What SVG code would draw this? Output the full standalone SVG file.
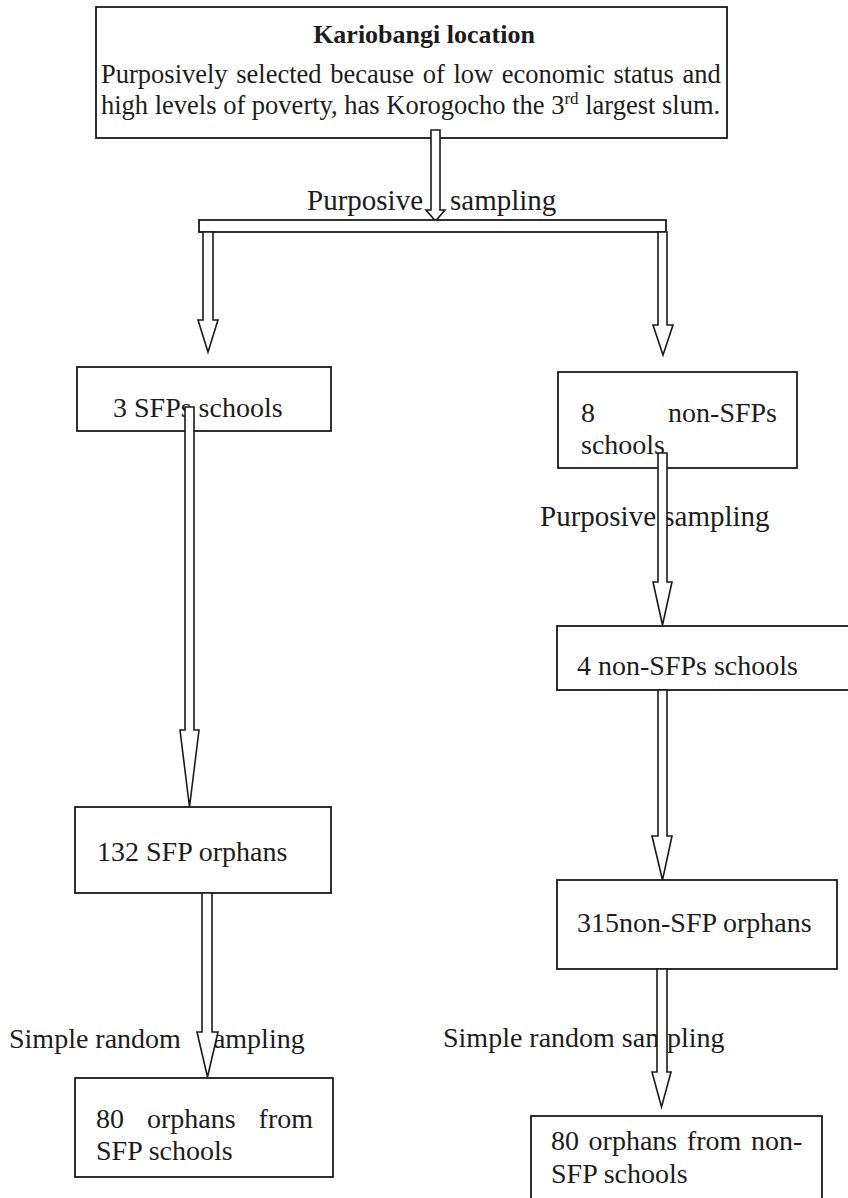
<svg xmlns="http://www.w3.org/2000/svg" width="848" height="1198" viewBox="0 0 848 1198">
<style>
.bg{fill:#ffffff}
.box{fill:#ffffff;stroke:#1a1a1a;stroke-width:1.8}
.t{font-family:"Liberation Serif","Times New Roman",serif;font-size:28px;fill:#1c1c1c}
.tt{font-family:"Liberation Serif","Times New Roman",serif;font-size:26.5px;fill:#1c1c1c}
.lbl{font-family:"Liberation Serif","Times New Roman",serif;font-size:29px;fill:#1c1c1c}
.b{font-weight:bold;font-size:26px}
.arr{fill:#ffffff;stroke:#1a1a1a;stroke-width:1.6;stroke-linejoin:miter}
</style>
<rect class="bg" x="0" y="0" width="848" height="1198"/>
<g id="node-kariobangi">
<rect class="box" x="96" y="7" width="631" height="131"/>
<text class="tt b" x="424" y="43" text-anchor="middle">Kariobangi location</text>
<text class="tt" x="101" y="83" word-spacing="2">Purposively selected because of low economic status and</text>
<text class="tt" x="101" y="114">high levels of poverty, has Korogocho the 3<tspan font-size="17" dy="-10">rd</tspan><tspan dy="10"> largest slum.</tspan></text>
</g>
<g id="node-3sfp">
<rect class="box" x="77" y="367" width="254" height="64"/>
<text class="t" x="113" y="417">3 SFPs schools</text>
</g>
<g id="node-8nonsfp">
<rect class="box" x="558" y="372" width="239" height="96"/>
<text class="t" x="581" y="422">8</text>
<text class="t" x="777" y="422" text-anchor="end">non-SFPs</text>
<text class="t" x="581" y="454">schools</text>
</g>
<g id="node-4nonsfp">
<rect class="box" x="557" y="626" width="292" height="64"/>
<text class="t" x="577" y="675">4 non-SFPs schools</text>
</g>
<g id="node-132sfp">
<rect class="box" x="75" y="807" width="256" height="86"/>
<text class="t" x="97" y="861">132 SFP orphans</text>
</g>
<g id="node-315nonsfp">
<rect class="box" x="557" y="880" width="280" height="89"/>
<text class="t" x="577" y="932">315non-SFP orphans</text>
</g>
<g id="node-80sfp">
<rect class="box" x="75" y="1078" width="258" height="99"/>
<text class="t" x="96" y="1128">80</text>
<text class="t" x="147" y="1128">orphans</text>
<text class="t" x="313" y="1128" text-anchor="end">from</text>
<text class="t" x="96" y="1160">SFP schools</text>
</g>
<g id="node-80nonsfp">
<rect class="box" x="531" y="1116" width="291" height="100"/>
<text class="t" x="551" y="1150" word-spacing="2.6">80 orphans from non-</text>
<text class="t" x="551" y="1183">SFP schools</text>
</g>
<g id="connectors">
<text class="lbl" x="307" y="210">Purposive</text>
<text class="lbl" x="450" y="210">sampling</text>
<text class="lbl" x="540" y="526">Purposive sampling</text>
<text class="t" x="9" y="1048">Simple random</text>
<text class="t" x="202" y="1048">sampling</text>
<text class="t" x="443" y="1047">Simple random sampling</text>
<path class="arr" d="M431 130 H440 V210 H445 L435.5 221 L426 210 H431 Z"/>
<rect class="box" x="199" y="220" width="467" height="12"/>
<path class="arr" d="M203 232 H213 V320 H218 L208 352 L198 320 H203 Z"/>
<path class="arr" d="M658 232 H667 V325 H673 L663 355 L653 325 H658 Z"/>
<path class="arr" d="M185 407 H194 V730 H199 L189.5 807 L180 730 H185 Z"/>
<path class="arr" d="M658 453 H667 V582 H672 L662.5 625 L653 582 H658 Z"/>
<path class="arr" d="M658 690 H667 V836 H672 L662.5 880 L652 836 H658 Z"/>
<path class="arr" d="M202 893 H212 V1032 H218 L207.5 1077 L197 1032 H202 Z"/>
<path class="arr" d="M657 969 H667 V1072 H671 L661.5 1107 L652 1072 H657 Z"/>
</g>
</svg>
